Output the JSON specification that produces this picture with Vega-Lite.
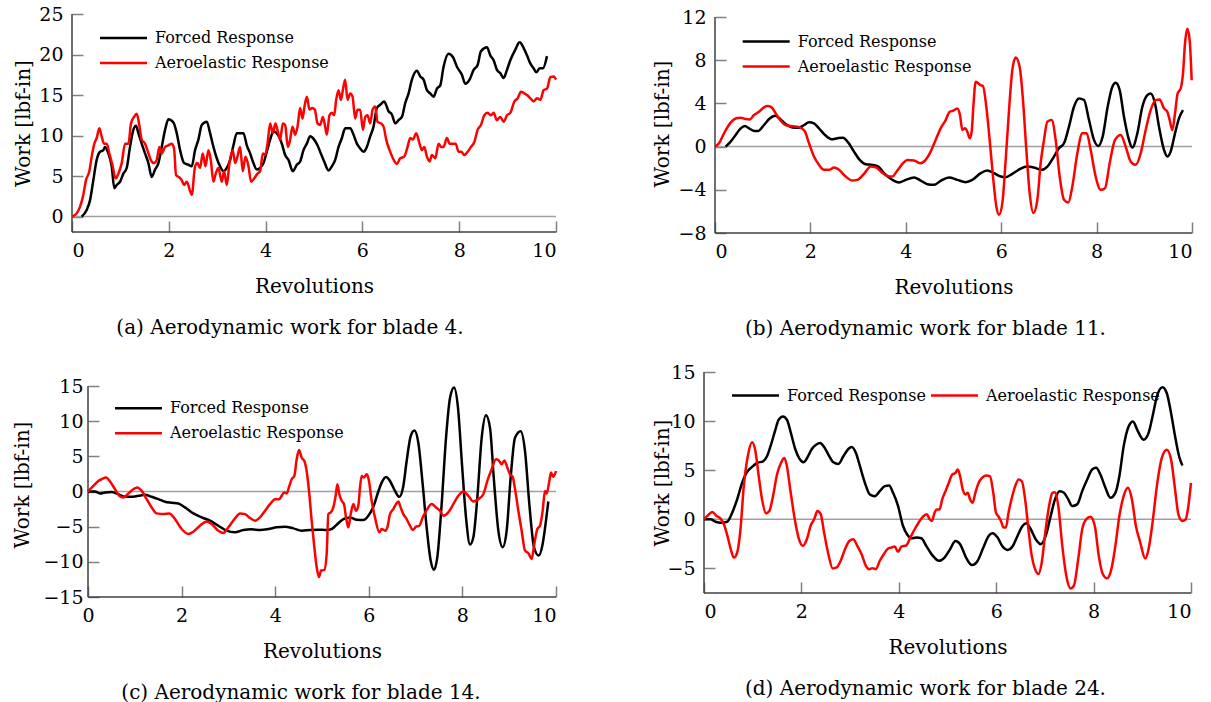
{
"$schema": "https://vega.github.io/schema/vega-lite/v6.json",
"background": "white",
"padding": {"left": 12, "top": 5, "right": 2, "bottom": 5},
"config": {
  "font": "DejaVu Serif",
  "view": {"stroke": null},
  "axis": {"grid": false, "domain": false, "ticks": true, "zindex": 1, "tickColor": "#808080", "tickWidth": 1.5, "tickSize": 11, "offset": -11, "labelFont": "DejaVu Serif", "labelFontSize": 19, "labelColor": "#000", "labelOverlap": false, "titleFont": "DejaVu Serif", "titleFontSize": 20, "titleFontWeight": "normal", "titleColor": "#000", "labelPadding": 9},
  "axisY": {"titlePadding": 5},
  "axisX": {"titlePadding": 16},
  "title": {"orient": "bottom", "anchor": "middle", "font": "DejaVu Serif", "fontSize": 20, "fontWeight": "normal", "color": "#000", "offset": 22},
  "legend": {"title": null, "labelFont": "DejaVu Serif", "labelFontSize": 16, "labelColor": "#000", "labelLimit": 500, "symbolType": "M-4.7,0H4.7", "symbolSize": 100, "symbolStrokeWidth": 2.5, "labelOffset": 23.5, "rowPadding": 9, "padding": 0, "orient": "none"},
  "line": {"strokeWidth": 2.5, "interpolate": "monotone"}
},
"datasets": {
"a": [
{"x":0.2,"y":0,"s":"Forced Response"},{"x":0.303,"y":0.8,"s":"Forced Response"},{"x":0.372,"y":2.0,"s":"Forced Response"},{"x":0.441,"y":4.5,"s":"Forced Response"},{"x":0.51,"y":7.0,"s":"Forced Response"},{"x":0.579,"y":8.0,"s":"Forced Response"},{"x":0.648,"y":8.2,"s":"Forced Response"},{"x":0.682,"y":8.6,"s":"Forced Response"},{"x":0.751,"y":7.8,"s":"Forced Response"},{"x":0.82,"y":6.2,"s":"Forced Response"},{"x":0.875,"y":3.5,"s":"Forced Response"},{"x":0.923,"y":3.9,"s":"Forced Response"},{"x":0.992,"y":4.3,"s":"Forced Response"},{"x":1.061,"y":5.3,"s":"Forced Response"},{"x":1.13,"y":6.0,"s":"Forced Response"},{"x":1.199,"y":8.6,"s":"Forced Response"},{"x":1.268,"y":10.7,"s":"Forced Response"},{"x":1.323,"y":11.2,"s":"Forced Response"},{"x":1.371,"y":10.3,"s":"Forced Response"},{"x":1.44,"y":9.0,"s":"Forced Response"},{"x":1.509,"y":7.8,"s":"Forced Response"},{"x":1.578,"y":6.6,"s":"Forced Response"},{"x":1.647,"y":4.9,"s":"Forced Response"},{"x":1.716,"y":5.8,"s":"Forced Response"},{"x":1.785,"y":6.6,"s":"Forced Response"},{"x":1.854,"y":8.6,"s":"Forced Response"},{"x":1.923,"y":10.7,"s":"Forced Response"},{"x":1.992,"y":12.0,"s":"Forced Response"},{"x":2.095,"y":11.6,"s":"Forced Response"},{"x":2.164,"y":10.3,"s":"Forced Response"},{"x":2.233,"y":8.2,"s":"Forced Response"},{"x":2.316,"y":6.6,"s":"Forced Response"},{"x":2.405,"y":6.4,"s":"Forced Response"},{"x":2.474,"y":6.2,"s":"Forced Response"},{"x":2.543,"y":8.2,"s":"Forced Response"},{"x":2.612,"y":9.5,"s":"Forced Response"},{"x":2.681,"y":11.3,"s":"Forced Response"},{"x":2.784,"y":11.7,"s":"Forced Response"},{"x":2.853,"y":10.3,"s":"Forced Response"},{"x":2.922,"y":8.6,"s":"Forced Response"},{"x":2.991,"y":7.2,"s":"Forced Response"},{"x":3.06,"y":6.2,"s":"Forced Response"},{"x":3.129,"y":5.6,"s":"Forced Response"},{"x":3.198,"y":6.0,"s":"Forced Response"},{"x":3.267,"y":7.0,"s":"Forced Response"},{"x":3.336,"y":8.8,"s":"Forced Response"},{"x":3.405,"y":10.3,"s":"Forced Response"},{"x":3.473,"y":10.3,"s":"Forced Response"},{"x":3.542,"y":10.3,"s":"Forced Response"},{"x":3.611,"y":8.8,"s":"Forced Response"},{"x":3.68,"y":7.8,"s":"Forced Response"},{"x":3.749,"y":6.6,"s":"Forced Response"},{"x":3.818,"y":5.8,"s":"Forced Response"},{"x":3.887,"y":6.0,"s":"Forced Response"},{"x":3.956,"y":6.6,"s":"Forced Response"},{"x":4.025,"y":8.0,"s":"Forced Response"},{"x":4.094,"y":9.5,"s":"Forced Response"},{"x":4.163,"y":10.5,"s":"Forced Response"},{"x":4.266,"y":10.0,"s":"Forced Response"},{"x":4.335,"y":9.0,"s":"Forced Response"},{"x":4.404,"y":7.6,"s":"Forced Response"},{"x":4.473,"y":7.0,"s":"Forced Response"},{"x":4.562,"y":5.6,"s":"Forced Response"},{"x":4.645,"y":6.4,"s":"Forced Response"},{"x":4.714,"y":6.8,"s":"Forced Response"},{"x":4.783,"y":8.2,"s":"Forced Response"},{"x":4.852,"y":9.0,"s":"Forced Response"},{"x":4.921,"y":9.9,"s":"Forced Response"},{"x":5.003,"y":9.5,"s":"Forced Response"},{"x":5.072,"y":8.8,"s":"Forced Response"},{"x":5.141,"y":7.8,"s":"Forced Response"},{"x":5.21,"y":6.8,"s":"Forced Response"},{"x":5.3,"y":5.7,"s":"Forced Response"},{"x":5.369,"y":6.2,"s":"Forced Response"},{"x":5.438,"y":7.0,"s":"Forced Response"},{"x":5.507,"y":8.6,"s":"Forced Response"},{"x":5.576,"y":9.7,"s":"Forced Response"},{"x":5.644,"y":10.9,"s":"Forced Response"},{"x":5.748,"y":10.9,"s":"Forced Response"},{"x":5.817,"y":10.1,"s":"Forced Response"},{"x":5.886,"y":9.0,"s":"Forced Response"},{"x":5.955,"y":8.4,"s":"Forced Response"},{"x":6.023,"y":8.0,"s":"Forced Response"},{"x":6.092,"y":8.6,"s":"Forced Response"},{"x":6.161,"y":9.9,"s":"Forced Response"},{"x":6.23,"y":11.1,"s":"Forced Response"},{"x":6.299,"y":13.4,"s":"Forced Response"},{"x":6.368,"y":13.8,"s":"Forced Response"},{"x":6.451,"y":14.2,"s":"Forced Response"},{"x":6.54,"y":13.0,"s":"Forced Response"},{"x":6.609,"y":12.6,"s":"Forced Response"},{"x":6.678,"y":11.5,"s":"Forced Response"},{"x":6.747,"y":11.9,"s":"Forced Response"},{"x":6.816,"y":12.3,"s":"Forced Response"},{"x":6.885,"y":14.0,"s":"Forced Response"},{"x":6.954,"y":15.2,"s":"Forced Response"},{"x":7.023,"y":16.9,"s":"Forced Response"},{"x":7.126,"y":18.0,"s":"Forced Response"},{"x":7.195,"y":17.3,"s":"Forced Response"},{"x":7.264,"y":16.9,"s":"Forced Response"},{"x":7.333,"y":15.6,"s":"Forced Response"},{"x":7.402,"y":15.2,"s":"Forced Response"},{"x":7.471,"y":14.8,"s":"Forced Response"},{"x":7.54,"y":15.8,"s":"Forced Response"},{"x":7.609,"y":16.2,"s":"Forced Response"},{"x":7.677,"y":18.5,"s":"Forced Response"},{"x":7.781,"y":20.1,"s":"Forced Response"},{"x":7.87,"y":19.7,"s":"Forced Response"},{"x":7.953,"y":18.5,"s":"Forced Response"},{"x":8.056,"y":17.5,"s":"Forced Response"},{"x":8.125,"y":16.4,"s":"Forced Response"},{"x":8.215,"y":16.9,"s":"Forced Response"},{"x":8.298,"y":18.1,"s":"Forced Response"},{"x":8.38,"y":18.7,"s":"Forced Response"},{"x":8.449,"y":20.4,"s":"Forced Response"},{"x":8.573,"y":20.9,"s":"Forced Response"},{"x":8.642,"y":19.9,"s":"Forced Response"},{"x":8.711,"y":19.3,"s":"Forced Response"},{"x":8.78,"y":18.1,"s":"Forced Response"},{"x":8.849,"y":17.7,"s":"Forced Response"},{"x":8.918,"y":17.1,"s":"Forced Response"},{"x":8.987,"y":18.1,"s":"Forced Response"},{"x":9.056,"y":19.3,"s":"Forced Response"},{"x":9.159,"y":20.6,"s":"Forced Response"},{"x":9.249,"y":21.5,"s":"Forced Response"},{"x":9.332,"y":20.8,"s":"Forced Response"},{"x":9.4,"y":19.9,"s":"Forced Response"},{"x":9.469,"y":18.9,"s":"Forced Response"},{"x":9.538,"y":18.3,"s":"Forced Response"},{"x":9.593,"y":17.8,"s":"Forced Response"},{"x":9.662,"y":18.3,"s":"Forced Response"},{"x":9.731,"y":18.3,"s":"Forced Response"},{"x":9.814,"y":19.8,"s":"Forced Response"},
{"x":0,"y":0,"s":"Aeroelastic Response"},{"x":0.096,"y":0.4,"s":"Aeroelastic Response"},{"x":0.165,"y":1.2,"s":"Aeroelastic Response"},{"x":0.234,"y":2.7,"s":"Aeroelastic Response"},{"x":0.289,"y":4.5,"s":"Aeroelastic Response"},{"x":0.358,"y":5.6,"s":"Aeroelastic Response"},{"x":0.407,"y":7.4,"s":"Aeroelastic Response"},{"x":0.462,"y":9.0,"s":"Aeroelastic Response"},{"x":0.51,"y":9.7,"s":"Aeroelastic Response"},{"x":0.565,"y":10.9,"s":"Aeroelastic Response"},{"x":0.613,"y":9.9,"s":"Aeroelastic Response"},{"x":0.662,"y":9.0,"s":"Aeroelastic Response"},{"x":0.717,"y":9.0,"s":"Aeroelastic Response"},{"x":0.772,"y":7.8,"s":"Aeroelastic Response"},{"x":0.834,"y":6.4,"s":"Aeroelastic Response"},{"x":0.903,"y":4.7,"s":"Aeroelastic Response"},{"x":0.958,"y":5.3,"s":"Aeroelastic Response"},{"x":1.027,"y":6.6,"s":"Aeroelastic Response"},{"x":1.096,"y":9.0,"s":"Aeroelastic Response"},{"x":1.165,"y":9.0,"s":"Aeroelastic Response"},{"x":1.22,"y":11.5,"s":"Aeroelastic Response"},{"x":1.282,"y":12.3,"s":"Aeroelastic Response"},{"x":1.337,"y":12.7,"s":"Aeroelastic Response"},{"x":1.385,"y":11.5,"s":"Aeroelastic Response"},{"x":1.44,"y":9.5,"s":"Aeroelastic Response"},{"x":1.509,"y":9.0,"s":"Aeroelastic Response"},{"x":1.558,"y":8.2,"s":"Aeroelastic Response"},{"x":1.626,"y":7.0,"s":"Aeroelastic Response"},{"x":1.695,"y":6.6,"s":"Aeroelastic Response"},{"x":1.75,"y":7.0,"s":"Aeroelastic Response"},{"x":1.806,"y":8.6,"s":"Aeroelastic Response"},{"x":1.854,"y":7.8,"s":"Aeroelastic Response"},{"x":1.923,"y":8.6,"s":"Aeroelastic Response"},{"x":1.992,"y":8.8,"s":"Aeroelastic Response"},{"x":2.061,"y":9.0,"s":"Aeroelastic Response"},{"x":2.109,"y":8.4,"s":"Aeroelastic Response"},{"x":2.15,"y":5.1,"s":"Aeroelastic Response"},{"x":2.205,"y":4.9,"s":"Aeroelastic Response"},{"x":2.267,"y":4.5,"s":"Aeroelastic Response"},{"x":2.316,"y":3.9,"s":"Aeroelastic Response"},{"x":2.371,"y":4.3,"s":"Aeroelastic Response"},{"x":2.474,"y":2.7,"s":"Aeroelastic Response"},{"x":2.543,"y":6.2,"s":"Aeroelastic Response"},{"x":2.591,"y":6.6,"s":"Aeroelastic Response"},{"x":2.646,"y":6.0,"s":"Aeroelastic Response"},{"x":2.702,"y":7.8,"s":"Aeroelastic Response"},{"x":2.757,"y":6.2,"s":"Aeroelastic Response"},{"x":2.819,"y":8.2,"s":"Aeroelastic Response"},{"x":2.867,"y":7.0,"s":"Aeroelastic Response"},{"x":2.922,"y":4.3,"s":"Aeroelastic Response"},{"x":2.97,"y":5.3,"s":"Aeroelastic Response"},{"x":3.025,"y":6.0,"s":"Aeroelastic Response"},{"x":3.094,"y":4.3,"s":"Aeroelastic Response"},{"x":3.143,"y":5.6,"s":"Aeroelastic Response"},{"x":3.198,"y":3.9,"s":"Aeroelastic Response"},{"x":3.253,"y":6.6,"s":"Aeroelastic Response"},{"x":3.322,"y":8.2,"s":"Aeroelastic Response"},{"x":3.37,"y":6.6,"s":"Aeroelastic Response"},{"x":3.418,"y":7.4,"s":"Aeroelastic Response"},{"x":3.473,"y":8.6,"s":"Aeroelastic Response"},{"x":3.529,"y":5.6,"s":"Aeroelastic Response"},{"x":3.584,"y":7.4,"s":"Aeroelastic Response"},{"x":3.646,"y":6.2,"s":"Aeroelastic Response"},{"x":3.701,"y":4.3,"s":"Aeroelastic Response"},{"x":3.763,"y":4.7,"s":"Aeroelastic Response"},{"x":3.832,"y":5.3,"s":"Aeroelastic Response"},{"x":3.887,"y":5.6,"s":"Aeroelastic Response"},{"x":3.942,"y":7.8,"s":"Aeroelastic Response"},{"x":3.99,"y":7.6,"s":"Aeroelastic Response"},{"x":4.039,"y":9.0,"s":"Aeroelastic Response"},{"x":4.094,"y":11.5,"s":"Aeroelastic Response"},{"x":4.149,"y":10.3,"s":"Aeroelastic Response"},{"x":4.204,"y":11.5,"s":"Aeroelastic Response"},{"x":4.252,"y":10.5,"s":"Aeroelastic Response"},{"x":4.3,"y":9.5,"s":"Aeroelastic Response"},{"x":4.356,"y":11.5,"s":"Aeroelastic Response"},{"x":4.404,"y":11.3,"s":"Aeroelastic Response"},{"x":4.459,"y":8.6,"s":"Aeroelastic Response"},{"x":4.507,"y":9.5,"s":"Aeroelastic Response"},{"x":4.555,"y":11.1,"s":"Aeroelastic Response"},{"x":4.611,"y":10.1,"s":"Aeroelastic Response"},{"x":4.659,"y":11.1,"s":"Aeroelastic Response"},{"x":4.714,"y":13.4,"s":"Aeroelastic Response"},{"x":4.762,"y":12.1,"s":"Aeroelastic Response"},{"x":4.804,"y":13.6,"s":"Aeroelastic Response"},{"x":4.852,"y":14.8,"s":"Aeroelastic Response"},{"x":4.907,"y":13.2,"s":"Aeroelastic Response"},{"x":4.962,"y":13.4,"s":"Aeroelastic Response"},{"x":5.017,"y":13.2,"s":"Aeroelastic Response"},{"x":5.072,"y":11.5,"s":"Aeroelastic Response"},{"x":5.127,"y":11.3,"s":"Aeroelastic Response"},{"x":5.183,"y":12.3,"s":"Aeroelastic Response"},{"x":5.231,"y":11.1,"s":"Aeroelastic Response"},{"x":5.265,"y":10.1,"s":"Aeroelastic Response"},{"x":5.32,"y":12.5,"s":"Aeroelastic Response"},{"x":5.369,"y":12.8,"s":"Aeroelastic Response"},{"x":5.417,"y":12.5,"s":"Aeroelastic Response"},{"x":5.458,"y":14.4,"s":"Aeroelastic Response"},{"x":5.507,"y":15.6,"s":"Aeroelastic Response"},{"x":5.555,"y":14.4,"s":"Aeroelastic Response"},{"x":5.596,"y":15.6,"s":"Aeroelastic Response"},{"x":5.644,"y":16.9,"s":"Aeroelastic Response"},{"x":5.693,"y":14.4,"s":"Aeroelastic Response"},{"x":5.748,"y":15.2,"s":"Aeroelastic Response"},{"x":5.796,"y":14.8,"s":"Aeroelastic Response"},{"x":5.851,"y":12.1,"s":"Aeroelastic Response"},{"x":5.899,"y":13.2,"s":"Aeroelastic Response"},{"x":5.955,"y":13.2,"s":"Aeroelastic Response"},{"x":6.01,"y":10.7,"s":"Aeroelastic Response"},{"x":6.058,"y":12.3,"s":"Aeroelastic Response"},{"x":6.106,"y":12.5,"s":"Aeroelastic Response"},{"x":6.161,"y":11.5,"s":"Aeroelastic Response"},{"x":6.21,"y":13.2,"s":"Aeroelastic Response"},{"x":6.265,"y":13.6,"s":"Aeroelastic Response"},{"x":6.313,"y":11.7,"s":"Aeroelastic Response"},{"x":6.382,"y":11.5,"s":"Aeroelastic Response"},{"x":6.437,"y":11.1,"s":"Aeroelastic Response"},{"x":6.492,"y":9.5,"s":"Aeroelastic Response"},{"x":6.561,"y":8.2,"s":"Aeroelastic Response"},{"x":6.63,"y":7.2,"s":"Aeroelastic Response"},{"x":6.713,"y":6.5,"s":"Aeroelastic Response"},{"x":6.782,"y":7.2,"s":"Aeroelastic Response"},{"x":6.864,"y":7.4,"s":"Aeroelastic Response"},{"x":6.933,"y":8.6,"s":"Aeroelastic Response"},{"x":6.988,"y":9.7,"s":"Aeroelastic Response"},{"x":7.043,"y":9.5,"s":"Aeroelastic Response"},{"x":7.112,"y":10.3,"s":"Aeroelastic Response"},{"x":7.181,"y":9.0,"s":"Aeroelastic Response"},{"x":7.23,"y":8.2,"s":"Aeroelastic Response"},{"x":7.278,"y":8.6,"s":"Aeroelastic Response"},{"x":7.333,"y":7.4,"s":"Aeroelastic Response"},{"x":7.388,"y":6.8,"s":"Aeroelastic Response"},{"x":7.436,"y":7.6,"s":"Aeroelastic Response"},{"x":7.505,"y":7.2,"s":"Aeroelastic Response"},{"x":7.574,"y":9.0,"s":"Aeroelastic Response"},{"x":7.629,"y":8.6,"s":"Aeroelastic Response"},{"x":7.677,"y":8.6,"s":"Aeroelastic Response"},{"x":7.746,"y":9.7,"s":"Aeroelastic Response"},{"x":7.802,"y":9.0,"s":"Aeroelastic Response"},{"x":7.87,"y":9.0,"s":"Aeroelastic Response"},{"x":7.926,"y":9.0,"s":"Aeroelastic Response"},{"x":7.988,"y":8.0,"s":"Aeroelastic Response"},{"x":8.043,"y":8.0,"s":"Aeroelastic Response"},{"x":8.105,"y":7.6,"s":"Aeroelastic Response"},{"x":8.174,"y":8.0,"s":"Aeroelastic Response"},{"x":8.243,"y":8.6,"s":"Aeroelastic Response"},{"x":8.312,"y":9.2,"s":"Aeroelastic Response"},{"x":8.38,"y":10.7,"s":"Aeroelastic Response"},{"x":8.449,"y":11.3,"s":"Aeroelastic Response"},{"x":8.518,"y":12.5,"s":"Aeroelastic Response"},{"x":8.587,"y":12.8,"s":"Aeroelastic Response"},{"x":8.656,"y":12.5,"s":"Aeroelastic Response"},{"x":8.711,"y":12.8,"s":"Aeroelastic Response"},{"x":8.78,"y":11.9,"s":"Aeroelastic Response"},{"x":8.849,"y":12.3,"s":"Aeroelastic Response"},{"x":8.918,"y":11.7,"s":"Aeroelastic Response"},{"x":8.987,"y":12.5,"s":"Aeroelastic Response"},{"x":9.056,"y":12.8,"s":"Aeroelastic Response"},{"x":9.139,"y":14.2,"s":"Aeroelastic Response"},{"x":9.208,"y":14.6,"s":"Aeroelastic Response"},{"x":9.276,"y":15.4,"s":"Aeroelastic Response"},{"x":9.345,"y":15.2,"s":"Aeroelastic Response"},{"x":9.4,"y":15.0,"s":"Aeroelastic Response"},{"x":9.469,"y":14.6,"s":"Aeroelastic Response"},{"x":9.538,"y":14.2,"s":"Aeroelastic Response"},{"x":9.607,"y":14.6,"s":"Aeroelastic Response"},{"x":9.676,"y":14.4,"s":"Aeroelastic Response"},{"x":9.745,"y":15.6,"s":"Aeroelastic Response"},{"x":9.814,"y":15.8,"s":"Aeroelastic Response"},{"x":9.883,"y":17.2,"s":"Aeroelastic Response"},{"x":9.952,"y":17.3,"s":"Aeroelastic Response"},{"x":10.0,"y":16.9,"s":"Aeroelastic Response"}
],
"b": [
{"x":0.224,"y":0,"s":"Forced Response"},{"x":0.328,"y":0.46,"s":"Forced Response"},{"x":0.433,"y":1.08,"s":"Forced Response"},{"x":0.538,"y":1.69,"s":"Forced Response"},{"x":0.629,"y":1.91,"s":"Forced Response"},{"x":0.713,"y":1.69,"s":"Forced Response"},{"x":0.818,"y":1.45,"s":"Forced Response"},{"x":0.908,"y":1.45,"s":"Forced Response"},{"x":1.027,"y":2.0,"s":"Forced Response"},{"x":1.146,"y":2.6,"s":"Forced Response"},{"x":1.258,"y":2.86,"s":"Forced Response"},{"x":1.377,"y":2.52,"s":"Forced Response"},{"x":1.481,"y":2.09,"s":"Forced Response"},{"x":1.621,"y":1.78,"s":"Forced Response"},{"x":1.761,"y":1.75,"s":"Forced Response"},{"x":1.866,"y":2.0,"s":"Forced Response"},{"x":1.971,"y":2.25,"s":"Forced Response"},{"x":2.075,"y":2.15,"s":"Forced Response"},{"x":2.18,"y":1.69,"s":"Forced Response"},{"x":2.306,"y":1.08,"s":"Forced Response"},{"x":2.446,"y":0.68,"s":"Forced Response"},{"x":2.565,"y":0.77,"s":"Forced Response"},{"x":2.683,"y":0.83,"s":"Forced Response"},{"x":2.795,"y":0.37,"s":"Forced Response"},{"x":2.914,"y":-0.46,"s":"Forced Response"},{"x":3.033,"y":-1.23,"s":"Forced Response"},{"x":3.159,"y":-1.63,"s":"Forced Response"},{"x":3.298,"y":-1.69,"s":"Forced Response"},{"x":3.424,"y":-1.85,"s":"Forced Response"},{"x":3.543,"y":-2.46,"s":"Forced Response"},{"x":3.683,"y":-2.98,"s":"Forced Response"},{"x":3.857,"y":-3.32,"s":"Forced Response"},{"x":3.997,"y":-3.08,"s":"Forced Response"},{"x":4.172,"y":-2.86,"s":"Forced Response"},{"x":4.312,"y":-3.14,"s":"Forced Response"},{"x":4.451,"y":-3.48,"s":"Forced Response"},{"x":4.591,"y":-3.54,"s":"Forced Response"},{"x":4.731,"y":-3.17,"s":"Forced Response"},{"x":4.906,"y":-2.86,"s":"Forced Response"},{"x":5.08,"y":-3.08,"s":"Forced Response"},{"x":5.255,"y":-3.29,"s":"Forced Response"},{"x":5.395,"y":-3.08,"s":"Forced Response"},{"x":5.57,"y":-2.46,"s":"Forced Response"},{"x":5.709,"y":-2.22,"s":"Forced Response"},{"x":5.849,"y":-2.46,"s":"Forced Response"},{"x":5.989,"y":-2.77,"s":"Forced Response"},{"x":6.094,"y":-2.83,"s":"Forced Response"},{"x":6.233,"y":-2.52,"s":"Forced Response"},{"x":6.387,"y":-2.09,"s":"Forced Response"},{"x":6.548,"y":-1.85,"s":"Forced Response"},{"x":6.688,"y":-1.94,"s":"Forced Response"},{"x":6.848,"y":-2.15,"s":"Forced Response"},{"x":6.967,"y":-1.85,"s":"Forced Response"},{"x":7.107,"y":-0.92,"s":"Forced Response"},{"x":7.212,"y":-0.15,"s":"Forced Response"},{"x":7.317,"y":0.31,"s":"Forced Response"},{"x":7.421,"y":1.85,"s":"Forced Response"},{"x":7.526,"y":3.69,"s":"Forced Response"},{"x":7.631,"y":4.46,"s":"Forced Response"},{"x":7.736,"y":4.31,"s":"Forced Response"},{"x":7.841,"y":2.46,"s":"Forced Response"},{"x":7.945,"y":0.62,"s":"Forced Response"},{"x":8.036,"y":0.06,"s":"Forced Response"},{"x":8.127,"y":0.92,"s":"Forced Response"},{"x":8.232,"y":3.69,"s":"Forced Response"},{"x":8.33,"y":5.54,"s":"Forced Response"},{"x":8.4,"y":5.91,"s":"Forced Response"},{"x":8.484,"y":5.23,"s":"Forced Response"},{"x":8.574,"y":2.77,"s":"Forced Response"},{"x":8.679,"y":0.62,"s":"Forced Response"},{"x":8.749,"y":-0.09,"s":"Forced Response"},{"x":8.854,"y":1.23,"s":"Forced Response"},{"x":8.959,"y":3.69,"s":"Forced Response"},{"x":9.064,"y":4.77,"s":"Forced Response"},{"x":9.133,"y":4.92,"s":"Forced Response"},{"x":9.224,"y":4.0,"s":"Forced Response"},{"x":9.308,"y":1.85,"s":"Forced Response"},{"x":9.413,"y":-0.31,"s":"Forced Response"},{"x":9.483,"y":-0.92,"s":"Forced Response"},{"x":9.553,"y":-0.46,"s":"Forced Response"},{"x":9.644,"y":1.23,"s":"Forced Response"},{"x":9.727,"y":2.62,"s":"Forced Response"},{"x":9.811,"y":3.38,"s":"Forced Response"},
{"x":0,"y":0,"s":"Aeroelastic Response"},{"x":0.084,"y":0.31,"s":"Aeroelastic Response"},{"x":0.189,"y":1.23,"s":"Aeroelastic Response"},{"x":0.328,"y":2.22,"s":"Aeroelastic Response"},{"x":0.447,"y":2.62,"s":"Aeroelastic Response"},{"x":0.538,"y":2.68,"s":"Aeroelastic Response"},{"x":0.643,"y":2.55,"s":"Aeroelastic Response"},{"x":0.727,"y":2.52,"s":"Aeroelastic Response"},{"x":0.818,"y":2.92,"s":"Aeroelastic Response"},{"x":0.922,"y":3.23,"s":"Aeroelastic Response"},{"x":1.027,"y":3.63,"s":"Aeroelastic Response"},{"x":1.097,"y":3.75,"s":"Aeroelastic Response"},{"x":1.188,"y":3.63,"s":"Aeroelastic Response"},{"x":1.272,"y":3.08,"s":"Aeroelastic Response"},{"x":1.377,"y":2.4,"s":"Aeroelastic Response"},{"x":1.481,"y":2.0,"s":"Aeroelastic Response"},{"x":1.586,"y":1.91,"s":"Aeroelastic Response"},{"x":1.705,"y":1.85,"s":"Aeroelastic Response"},{"x":1.817,"y":1.69,"s":"Aeroelastic Response"},{"x":1.887,"y":1.38,"s":"Aeroelastic Response"},{"x":1.971,"y":0.31,"s":"Aeroelastic Response"},{"x":2.075,"y":-0.92,"s":"Aeroelastic Response"},{"x":2.18,"y":-1.69,"s":"Aeroelastic Response"},{"x":2.285,"y":-2.15,"s":"Aeroelastic Response"},{"x":2.39,"y":-2.15,"s":"Aeroelastic Response"},{"x":2.495,"y":-1.94,"s":"Aeroelastic Response"},{"x":2.6,"y":-2.15,"s":"Aeroelastic Response"},{"x":2.739,"y":-2.77,"s":"Aeroelastic Response"},{"x":2.879,"y":-3.14,"s":"Aeroelastic Response"},{"x":2.984,"y":-3.08,"s":"Aeroelastic Response"},{"x":3.124,"y":-2.52,"s":"Aeroelastic Response"},{"x":3.263,"y":-1.85,"s":"Aeroelastic Response"},{"x":3.368,"y":-1.91,"s":"Aeroelastic Response"},{"x":3.494,"y":-2.37,"s":"Aeroelastic Response"},{"x":3.613,"y":-2.71,"s":"Aeroelastic Response"},{"x":3.718,"y":-2.77,"s":"Aeroelastic Response"},{"x":3.822,"y":-2.22,"s":"Aeroelastic Response"},{"x":3.941,"y":-1.54,"s":"Aeroelastic Response"},{"x":4.032,"y":-1.23,"s":"Aeroelastic Response"},{"x":4.172,"y":-1.29,"s":"Aeroelastic Response"},{"x":4.312,"y":-1.54,"s":"Aeroelastic Response"},{"x":4.416,"y":-1.23,"s":"Aeroelastic Response"},{"x":4.521,"y":-0.46,"s":"Aeroelastic Response"},{"x":4.626,"y":0.62,"s":"Aeroelastic Response"},{"x":4.731,"y":1.69,"s":"Aeroelastic Response"},{"x":4.836,"y":2.46,"s":"Aeroelastic Response"},{"x":4.92,"y":3.23,"s":"Aeroelastic Response"},{"x":4.99,"y":3.32,"s":"Aeroelastic Response"},{"x":5.08,"y":3.54,"s":"Aeroelastic Response"},{"x":5.136,"y":2.92,"s":"Aeroelastic Response"},{"x":5.185,"y":1.54,"s":"Aeroelastic Response"},{"x":5.241,"y":1.69,"s":"Aeroelastic Response"},{"x":5.29,"y":1.38,"s":"Aeroelastic Response"},{"x":5.339,"y":0.77,"s":"Aeroelastic Response"},{"x":5.381,"y":1.38,"s":"Aeroelastic Response"},{"x":5.416,"y":3.69,"s":"Aeroelastic Response"},{"x":5.465,"y":6.0,"s":"Aeroelastic Response"},{"x":5.521,"y":5.85,"s":"Aeroelastic Response"},{"x":5.57,"y":5.69,"s":"Aeroelastic Response"},{"x":5.618,"y":5.6,"s":"Aeroelastic Response"},{"x":5.688,"y":3.69,"s":"Aeroelastic Response"},{"x":5.758,"y":0.62,"s":"Aeroelastic Response"},{"x":5.828,"y":-2.77,"s":"Aeroelastic Response"},{"x":5.898,"y":-5.54,"s":"Aeroelastic Response"},{"x":5.954,"y":-6.31,"s":"Aeroelastic Response"},{"x":6.024,"y":-5.23,"s":"Aeroelastic Response"},{"x":6.094,"y":-1.23,"s":"Aeroelastic Response"},{"x":6.164,"y":3.38,"s":"Aeroelastic Response"},{"x":6.233,"y":7.08,"s":"Aeroelastic Response"},{"x":6.303,"y":8.25,"s":"Aeroelastic Response"},{"x":6.387,"y":7.38,"s":"Aeroelastic Response"},{"x":6.457,"y":4.31,"s":"Aeroelastic Response"},{"x":6.527,"y":-0.31,"s":"Aeroelastic Response"},{"x":6.597,"y":-4.31,"s":"Aeroelastic Response"},{"x":6.674,"y":-6.15,"s":"Aeroelastic Response"},{"x":6.758,"y":-4.92,"s":"Aeroelastic Response"},{"x":6.827,"y":-1.54,"s":"Aeroelastic Response"},{"x":6.897,"y":0.62,"s":"Aeroelastic Response"},{"x":6.967,"y":2.31,"s":"Aeroelastic Response"},{"x":7.058,"y":2.46,"s":"Aeroelastic Response"},{"x":7.142,"y":0.62,"s":"Aeroelastic Response"},{"x":7.226,"y":-2.77,"s":"Aeroelastic Response"},{"x":7.317,"y":-4.92,"s":"Aeroelastic Response"},{"x":7.407,"y":-5.17,"s":"Aeroelastic Response"},{"x":7.491,"y":-3.69,"s":"Aeroelastic Response"},{"x":7.596,"y":-0.62,"s":"Aeroelastic Response"},{"x":7.701,"y":1.23,"s":"Aeroelastic Response"},{"x":7.792,"y":1.23,"s":"Aeroelastic Response"},{"x":7.876,"y":-0.31,"s":"Aeroelastic Response"},{"x":7.98,"y":-2.77,"s":"Aeroelastic Response"},{"x":8.085,"y":-4.0,"s":"Aeroelastic Response"},{"x":8.176,"y":-3.85,"s":"Aeroelastic Response"},{"x":8.274,"y":-1.54,"s":"Aeroelastic Response"},{"x":8.386,"y":0.62,"s":"Aeroelastic Response"},{"x":8.505,"y":1.08,"s":"Aeroelastic Response"},{"x":8.609,"y":0,"s":"Aeroelastic Response"},{"x":8.714,"y":-1.38,"s":"Aeroelastic Response"},{"x":8.819,"y":-1.69,"s":"Aeroelastic Response"},{"x":8.924,"y":-0.62,"s":"Aeroelastic Response"},{"x":9.029,"y":1.54,"s":"Aeroelastic Response"},{"x":9.133,"y":3.38,"s":"Aeroelastic Response"},{"x":9.238,"y":4.31,"s":"Aeroelastic Response"},{"x":9.322,"y":4.37,"s":"Aeroelastic Response"},{"x":9.413,"y":3.54,"s":"Aeroelastic Response"},{"x":9.483,"y":3.23,"s":"Aeroelastic Response"},{"x":9.532,"y":2.46,"s":"Aeroelastic Response"},{"x":9.588,"y":1.54,"s":"Aeroelastic Response"},{"x":9.644,"y":3.08,"s":"Aeroelastic Response"},{"x":9.699,"y":4.92,"s":"Aeroelastic Response"},{"x":9.762,"y":5.38,"s":"Aeroelastic Response"},{"x":9.811,"y":6.77,"s":"Aeroelastic Response"},{"x":9.853,"y":9.54,"s":"Aeroelastic Response"},{"x":9.902,"y":10.92,"s":"Aeroelastic Response"},{"x":9.951,"y":9.85,"s":"Aeroelastic Response"},{"x":9.993,"y":6.15,"s":"Aeroelastic Response"}
],
"c": [
{"x":0,"y":0,"s":"Forced Response"},{"x":0.15,"y":0,"s":"Forced Response"},{"x":0.256,"y":-0.28,"s":"Forced Response"},{"x":0.363,"y":-0.14,"s":"Forced Response"},{"x":0.506,"y":-0.05,"s":"Forced Response"},{"x":0.648,"y":-0.38,"s":"Forced Response"},{"x":0.791,"y":-0.75,"s":"Forced Response"},{"x":0.933,"y":-0.75,"s":"Forced Response"},{"x":1.075,"y":-0.61,"s":"Forced Response"},{"x":1.218,"y":-0.47,"s":"Forced Response"},{"x":1.36,"y":-0.75,"s":"Forced Response"},{"x":1.503,"y":-1.08,"s":"Forced Response"},{"x":1.645,"y":-1.46,"s":"Forced Response"},{"x":1.788,"y":-1.6,"s":"Forced Response"},{"x":1.93,"y":-1.7,"s":"Forced Response"},{"x":2.073,"y":-2.26,"s":"Forced Response"},{"x":2.251,"y":-3.11,"s":"Forced Response"},{"x":2.429,"y":-3.68,"s":"Forced Response"},{"x":2.607,"y":-4.15,"s":"Forced Response"},{"x":2.785,"y":-4.86,"s":"Forced Response"},{"x":2.963,"y":-5.57,"s":"Forced Response"},{"x":3.141,"y":-5.8,"s":"Forced Response"},{"x":3.319,"y":-5.47,"s":"Forced Response"},{"x":3.497,"y":-5.38,"s":"Forced Response"},{"x":3.675,"y":-5.47,"s":"Forced Response"},{"x":3.853,"y":-5.33,"s":"Forced Response"},{"x":4.031,"y":-5.09,"s":"Forced Response"},{"x":4.209,"y":-5.0,"s":"Forced Response"},{"x":4.387,"y":-5.24,"s":"Forced Response"},{"x":4.566,"y":-5.57,"s":"Forced Response"},{"x":4.744,"y":-5.47,"s":"Forced Response"},{"x":4.922,"y":-5.42,"s":"Forced Response"},{"x":5.1,"y":-5.47,"s":"Forced Response"},{"x":5.207,"y":-5.33,"s":"Forced Response"},{"x":5.313,"y":-4.72,"s":"Forced Response"},{"x":5.456,"y":-3.92,"s":"Forced Response"},{"x":5.598,"y":-3.68,"s":"Forced Response"},{"x":5.741,"y":-4.01,"s":"Forced Response"},{"x":5.883,"y":-4.06,"s":"Forced Response"},{"x":5.99,"y":-3.44,"s":"Forced Response"},{"x":6.097,"y":-2.17,"s":"Forced Response"},{"x":6.204,"y":0,"s":"Forced Response"},{"x":6.275,"y":1.27,"s":"Forced Response"},{"x":6.368,"y":2.08,"s":"Forced Response"},{"x":6.453,"y":1.51,"s":"Forced Response"},{"x":6.56,"y":0.09,"s":"Forced Response"},{"x":6.652,"y":-0.75,"s":"Forced Response"},{"x":6.738,"y":0.8,"s":"Forced Response"},{"x":6.809,"y":4.34,"s":"Forced Response"},{"x":6.895,"y":7.88,"s":"Forced Response"},{"x":6.973,"y":8.68,"s":"Forced Response"},{"x":7.058,"y":6.93,"s":"Forced Response"},{"x":7.151,"y":1.04,"s":"Forced Response"},{"x":7.236,"y":-5.09,"s":"Forced Response"},{"x":7.322,"y":-9.81,"s":"Forced Response"},{"x":7.393,"y":-11.13,"s":"Forced Response"},{"x":7.464,"y":-9.34,"s":"Forced Response"},{"x":7.557,"y":-1.79,"s":"Forced Response"},{"x":7.65,"y":7.64,"s":"Forced Response"},{"x":7.735,"y":13.3,"s":"Forced Response"},{"x":7.821,"y":14.81,"s":"Forced Response"},{"x":7.906,"y":11.89,"s":"Forced Response"},{"x":7.991,"y":3.87,"s":"Forced Response"},{"x":8.077,"y":-3.68,"s":"Forced Response"},{"x":8.162,"y":-7.55,"s":"Forced Response"},{"x":8.234,"y":-6.51,"s":"Forced Response"},{"x":8.319,"y":-0.85,"s":"Forced Response"},{"x":8.412,"y":7.64,"s":"Forced Response"},{"x":8.504,"y":10.85,"s":"Forced Response"},{"x":8.59,"y":9.06,"s":"Forced Response"},{"x":8.675,"y":1.51,"s":"Forced Response"},{"x":8.768,"y":-5.57,"s":"Forced Response"},{"x":8.86,"y":-7.92,"s":"Forced Response"},{"x":8.946,"y":-5.57,"s":"Forced Response"},{"x":9.031,"y":1.98,"s":"Forced Response"},{"x":9.124,"y":7.64,"s":"Forced Response"},{"x":9.245,"y":8.58,"s":"Forced Response"},{"x":9.338,"y":5.75,"s":"Forced Response"},{"x":9.43,"y":-1.79,"s":"Forced Response"},{"x":9.53,"y":-7.92,"s":"Forced Response"},{"x":9.63,"y":-9.1,"s":"Forced Response"},{"x":9.715,"y":-7.45,"s":"Forced Response"},{"x":9.786,"y":-4.15,"s":"Forced Response"},{"x":9.836,"y":-1.42,"s":"Forced Response"},
{"x":0,"y":0,"s":"Aeroelastic Response"},{"x":0.114,"y":0.8,"s":"Aeroelastic Response"},{"x":0.221,"y":1.51,"s":"Aeroelastic Response"},{"x":0.292,"y":1.75,"s":"Aeroelastic Response"},{"x":0.385,"y":1.98,"s":"Aeroelastic Response"},{"x":0.47,"y":1.42,"s":"Aeroelastic Response"},{"x":0.577,"y":0.33,"s":"Aeroelastic Response"},{"x":0.67,"y":-0.61,"s":"Aeroelastic Response"},{"x":0.755,"y":-0.85,"s":"Aeroelastic Response"},{"x":0.862,"y":-0.28,"s":"Aeroelastic Response"},{"x":0.969,"y":0.33,"s":"Aeroelastic Response"},{"x":1.054,"y":0.57,"s":"Aeroelastic Response"},{"x":1.147,"y":0.09,"s":"Aeroelastic Response"},{"x":1.254,"y":-1.08,"s":"Aeroelastic Response"},{"x":1.36,"y":-2.26,"s":"Aeroelastic Response"},{"x":1.467,"y":-3.11,"s":"Aeroelastic Response"},{"x":1.61,"y":-3.21,"s":"Aeroelastic Response"},{"x":1.738,"y":-3.11,"s":"Aeroelastic Response"},{"x":1.859,"y":-3.92,"s":"Aeroelastic Response"},{"x":2.001,"y":-5.33,"s":"Aeroelastic Response"},{"x":2.144,"y":-6.04,"s":"Aeroelastic Response"},{"x":2.251,"y":-5.71,"s":"Aeroelastic Response"},{"x":2.393,"y":-4.86,"s":"Aeroelastic Response"},{"x":2.536,"y":-4.25,"s":"Aeroelastic Response"},{"x":2.642,"y":-4.62,"s":"Aeroelastic Response"},{"x":2.785,"y":-5.57,"s":"Aeroelastic Response"},{"x":2.892,"y":-5.9,"s":"Aeroelastic Response"},{"x":2.999,"y":-5.09,"s":"Aeroelastic Response"},{"x":3.141,"y":-3.82,"s":"Aeroelastic Response"},{"x":3.248,"y":-3.11,"s":"Aeroelastic Response"},{"x":3.355,"y":-3.21,"s":"Aeroelastic Response"},{"x":3.462,"y":-3.77,"s":"Aeroelastic Response"},{"x":3.568,"y":-4.15,"s":"Aeroelastic Response"},{"x":3.675,"y":-3.68,"s":"Aeroelastic Response"},{"x":3.782,"y":-2.74,"s":"Aeroelastic Response"},{"x":3.889,"y":-1.79,"s":"Aeroelastic Response"},{"x":3.996,"y":-1.08,"s":"Aeroelastic Response"},{"x":4.088,"y":-1.08,"s":"Aeroelastic Response"},{"x":4.138,"y":-0.61,"s":"Aeroelastic Response"},{"x":4.188,"y":-0.14,"s":"Aeroelastic Response"},{"x":4.245,"y":-0.28,"s":"Aeroelastic Response"},{"x":4.302,"y":0.8,"s":"Aeroelastic Response"},{"x":4.352,"y":1.75,"s":"Aeroelastic Response"},{"x":4.409,"y":2.22,"s":"Aeroelastic Response"},{"x":4.459,"y":4.58,"s":"Aeroelastic Response"},{"x":4.509,"y":5.9,"s":"Aeroelastic Response"},{"x":4.566,"y":4.81,"s":"Aeroelastic Response"},{"x":4.623,"y":4.34,"s":"Aeroelastic Response"},{"x":4.672,"y":2.92,"s":"Aeroelastic Response"},{"x":4.729,"y":-0.38,"s":"Aeroelastic Response"},{"x":4.779,"y":-4.15,"s":"Aeroelastic Response"},{"x":4.836,"y":-7.92,"s":"Aeroelastic Response"},{"x":4.886,"y":-10.75,"s":"Aeroelastic Response"},{"x":4.936,"y":-12.17,"s":"Aeroelastic Response"},{"x":4.979,"y":-11.23,"s":"Aeroelastic Response"},{"x":5.05,"y":-11.13,"s":"Aeroelastic Response"},{"x":5.1,"y":-8.87,"s":"Aeroelastic Response"},{"x":5.135,"y":-3.21,"s":"Aeroelastic Response"},{"x":5.185,"y":-2.97,"s":"Aeroelastic Response"},{"x":5.242,"y":-2.26,"s":"Aeroelastic Response"},{"x":5.292,"y":-0.61,"s":"Aeroelastic Response"},{"x":5.328,"y":1.04,"s":"Aeroelastic Response"},{"x":5.37,"y":-0.38,"s":"Aeroelastic Response"},{"x":5.42,"y":-1.32,"s":"Aeroelastic Response"},{"x":5.47,"y":-1.79,"s":"Aeroelastic Response"},{"x":5.513,"y":-3.68,"s":"Aeroelastic Response"},{"x":5.563,"y":-5.09,"s":"Aeroelastic Response"},{"x":5.613,"y":-3.21,"s":"Aeroelastic Response"},{"x":5.67,"y":-1.79,"s":"Aeroelastic Response"},{"x":5.726,"y":-2.74,"s":"Aeroelastic Response"},{"x":5.776,"y":-2.03,"s":"Aeroelastic Response"},{"x":5.812,"y":0.57,"s":"Aeroelastic Response"},{"x":5.848,"y":2.22,"s":"Aeroelastic Response"},{"x":5.897,"y":1.98,"s":"Aeroelastic Response"},{"x":5.954,"y":2.45,"s":"Aeroelastic Response"},{"x":5.997,"y":1.75,"s":"Aeroelastic Response"},{"x":6.061,"y":-1.32,"s":"Aeroelastic Response"},{"x":6.132,"y":-3.68,"s":"Aeroelastic Response"},{"x":6.225,"y":-5.8,"s":"Aeroelastic Response"},{"x":6.275,"y":-5.33,"s":"Aeroelastic Response"},{"x":6.346,"y":-5.57,"s":"Aeroelastic Response"},{"x":6.396,"y":-5.09,"s":"Aeroelastic Response"},{"x":6.453,"y":-3.21,"s":"Aeroelastic Response"},{"x":6.524,"y":-2.5,"s":"Aeroelastic Response"},{"x":6.581,"y":-1.79,"s":"Aeroelastic Response"},{"x":6.631,"y":-1.42,"s":"Aeroelastic Response"},{"x":6.681,"y":-2.26,"s":"Aeroelastic Response"},{"x":6.738,"y":-3.21,"s":"Aeroelastic Response"},{"x":6.809,"y":-3.92,"s":"Aeroelastic Response"},{"x":6.88,"y":-4.86,"s":"Aeroelastic Response"},{"x":6.937,"y":-5.47,"s":"Aeroelastic Response"},{"x":7.009,"y":-5.0,"s":"Aeroelastic Response"},{"x":7.08,"y":-4.86,"s":"Aeroelastic Response"},{"x":7.151,"y":-3.68,"s":"Aeroelastic Response"},{"x":7.236,"y":-2.64,"s":"Aeroelastic Response"},{"x":7.343,"y":-1.79,"s":"Aeroelastic Response"},{"x":7.436,"y":-2.26,"s":"Aeroelastic Response"},{"x":7.521,"y":-2.74,"s":"Aeroelastic Response"},{"x":7.593,"y":-3.44,"s":"Aeroelastic Response"},{"x":7.699,"y":-2.97,"s":"Aeroelastic Response"},{"x":7.806,"y":-1.79,"s":"Aeroelastic Response"},{"x":7.913,"y":-0.61,"s":"Aeroelastic Response"},{"x":8.02,"y":0,"s":"Aeroelastic Response"},{"x":8.127,"y":-0.61,"s":"Aeroelastic Response"},{"x":8.234,"y":-1.42,"s":"Aeroelastic Response"},{"x":8.34,"y":-1.08,"s":"Aeroelastic Response"},{"x":8.447,"y":-0.38,"s":"Aeroelastic Response"},{"x":8.533,"y":1.51,"s":"Aeroelastic Response"},{"x":8.625,"y":3.16,"s":"Aeroelastic Response"},{"x":8.718,"y":4.58,"s":"Aeroelastic Response"},{"x":8.789,"y":4.34,"s":"Aeroelastic Response"},{"x":8.839,"y":3.87,"s":"Aeroelastic Response"},{"x":8.896,"y":4.43,"s":"Aeroelastic Response"},{"x":8.96,"y":3.4,"s":"Aeroelastic Response"},{"x":9.017,"y":2.45,"s":"Aeroelastic Response"},{"x":9.074,"y":2.08,"s":"Aeroelastic Response"},{"x":9.131,"y":0.09,"s":"Aeroelastic Response"},{"x":9.195,"y":-2.74,"s":"Aeroelastic Response"},{"x":9.266,"y":-5.57,"s":"Aeroelastic Response"},{"x":9.338,"y":-8.4,"s":"Aeroelastic Response"},{"x":9.409,"y":-8.77,"s":"Aeroelastic Response"},{"x":9.48,"y":-9.58,"s":"Aeroelastic Response"},{"x":9.537,"y":-7.45,"s":"Aeroelastic Response"},{"x":9.601,"y":-5.33,"s":"Aeroelastic Response"},{"x":9.658,"y":-4.86,"s":"Aeroelastic Response"},{"x":9.715,"y":-2.74,"s":"Aeroelastic Response"},{"x":9.765,"y":0.09,"s":"Aeroelastic Response"},{"x":9.801,"y":-0.28,"s":"Aeroelastic Response"},{"x":9.858,"y":1.51,"s":"Aeroelastic Response"},{"x":9.893,"y":2.69,"s":"Aeroelastic Response"},{"x":9.943,"y":2.08,"s":"Aeroelastic Response"},{"x":10.0,"y":2.92,"s":"Aeroelastic Response"}
],
"d": [
{"x":0,"y":0,"s":"Forced Response"},{"x":0.136,"y":0,"s":"Forced Response"},{"x":0.238,"y":-0.24,"s":"Forced Response"},{"x":0.341,"y":-0.34,"s":"Forced Response"},{"x":0.477,"y":-0.24,"s":"Forced Response"},{"x":0.579,"y":0.68,"s":"Forced Response"},{"x":0.681,"y":2.03,"s":"Forced Response"},{"x":0.783,"y":3.72,"s":"Forced Response"},{"x":0.872,"y":4.73,"s":"Forced Response"},{"x":0.988,"y":5.34,"s":"Forced Response"},{"x":1.09,"y":5.74,"s":"Forced Response"},{"x":1.213,"y":5.91,"s":"Forced Response"},{"x":1.294,"y":6.42,"s":"Forced Response"},{"x":1.376,"y":7.6,"s":"Forced Response"},{"x":1.465,"y":9.12,"s":"Forced Response"},{"x":1.533,"y":10.14,"s":"Forced Response"},{"x":1.621,"y":10.47,"s":"Forced Response"},{"x":1.703,"y":10.14,"s":"Forced Response"},{"x":1.785,"y":8.78,"s":"Forced Response"},{"x":1.873,"y":7.16,"s":"Forced Response"},{"x":1.962,"y":6.15,"s":"Forced Response"},{"x":2.044,"y":5.81,"s":"Forced Response"},{"x":2.125,"y":6.32,"s":"Forced Response"},{"x":2.214,"y":7.16,"s":"Forced Response"},{"x":2.302,"y":7.6,"s":"Forced Response"},{"x":2.384,"y":7.77,"s":"Forced Response"},{"x":2.466,"y":7.36,"s":"Forced Response"},{"x":2.554,"y":6.59,"s":"Forced Response"},{"x":2.657,"y":5.81,"s":"Forced Response"},{"x":2.759,"y":5.64,"s":"Forced Response"},{"x":2.861,"y":6.42,"s":"Forced Response"},{"x":2.963,"y":7.16,"s":"Forced Response"},{"x":3.031,"y":7.36,"s":"Forced Response"},{"x":3.12,"y":6.76,"s":"Forced Response"},{"x":3.202,"y":5.41,"s":"Forced Response"},{"x":3.304,"y":3.72,"s":"Forced Response"},{"x":3.406,"y":2.53,"s":"Forced Response"},{"x":3.508,"y":2.36,"s":"Forced Response"},{"x":3.61,"y":2.87,"s":"Forced Response"},{"x":3.713,"y":3.38,"s":"Forced Response"},{"x":3.801,"y":3.45,"s":"Forced Response"},{"x":3.883,"y":2.7,"s":"Forced Response"},{"x":3.985,"y":1.35,"s":"Forced Response"},{"x":4.087,"y":-0.68,"s":"Forced Response"},{"x":4.169,"y":-1.52,"s":"Forced Response"},{"x":4.257,"y":-1.93,"s":"Forced Response"},{"x":4.36,"y":-1.86,"s":"Forced Response"},{"x":4.462,"y":-1.93,"s":"Forced Response"},{"x":4.564,"y":-2.7,"s":"Forced Response"},{"x":4.7,"y":-3.72,"s":"Forced Response"},{"x":4.823,"y":-4.22,"s":"Forced Response"},{"x":4.939,"y":-3.89,"s":"Forced Response"},{"x":5.054,"y":-3.04,"s":"Forced Response"},{"x":5.163,"y":-2.2,"s":"Forced Response"},{"x":5.259,"y":-2.53,"s":"Forced Response"},{"x":5.381,"y":-3.89,"s":"Forced Response"},{"x":5.504,"y":-4.66,"s":"Forced Response"},{"x":5.62,"y":-4.22,"s":"Forced Response"},{"x":5.736,"y":-2.87,"s":"Forced Response"},{"x":5.845,"y":-1.69,"s":"Forced Response"},{"x":5.926,"y":-1.42,"s":"Forced Response"},{"x":6.029,"y":-1.86,"s":"Forced Response"},{"x":6.131,"y":-2.77,"s":"Forced Response"},{"x":6.233,"y":-3.11,"s":"Forced Response"},{"x":6.335,"y":-2.77,"s":"Forced Response"},{"x":6.437,"y":-1.69,"s":"Forced Response"},{"x":6.54,"y":-0.68,"s":"Forced Response"},{"x":6.621,"y":-0.41,"s":"Forced Response"},{"x":6.71,"y":-1.01,"s":"Forced Response"},{"x":6.812,"y":-2.03,"s":"Forced Response"},{"x":6.914,"y":-2.53,"s":"Forced Response"},{"x":7.016,"y":-1.69,"s":"Forced Response"},{"x":7.119,"y":0.34,"s":"Forced Response"},{"x":7.207,"y":2.03,"s":"Forced Response"},{"x":7.302,"y":2.87,"s":"Forced Response"},{"x":7.391,"y":2.7,"s":"Forced Response"},{"x":7.48,"y":2.03,"s":"Forced Response"},{"x":7.561,"y":1.35,"s":"Forced Response"},{"x":7.663,"y":1.52,"s":"Forced Response"},{"x":7.766,"y":2.87,"s":"Forced Response"},{"x":7.868,"y":4.05,"s":"Forced Response"},{"x":7.97,"y":5.07,"s":"Forced Response"},{"x":8.052,"y":5.24,"s":"Forced Response"},{"x":8.14,"y":4.56,"s":"Forced Response"},{"x":8.243,"y":3.21,"s":"Forced Response"},{"x":8.345,"y":2.2,"s":"Forced Response"},{"x":8.447,"y":2.7,"s":"Forced Response"},{"x":8.529,"y":4.39,"s":"Forced Response"},{"x":8.617,"y":7.43,"s":"Forced Response"},{"x":8.719,"y":9.46,"s":"Forced Response"},{"x":8.808,"y":9.97,"s":"Forced Response"},{"x":8.91,"y":8.95,"s":"Forced Response"},{"x":9.026,"y":8.11,"s":"Forced Response"},{"x":9.128,"y":8.78,"s":"Forced Response"},{"x":9.21,"y":10.47,"s":"Forced Response"},{"x":9.299,"y":12.5,"s":"Forced Response"},{"x":9.414,"y":13.45,"s":"Forced Response"},{"x":9.503,"y":12.84,"s":"Forced Response"},{"x":9.591,"y":10.81,"s":"Forced Response"},{"x":9.673,"y":8.45,"s":"Forced Response"},{"x":9.755,"y":6.42,"s":"Forced Response"},{"x":9.823,"y":5.47,"s":"Forced Response"},
{"x":0,"y":0,"s":"Aeroelastic Response"},{"x":0.082,"y":0.41,"s":"Aeroelastic Response"},{"x":0.17,"y":0.74,"s":"Aeroelastic Response"},{"x":0.259,"y":0.34,"s":"Aeroelastic Response"},{"x":0.341,"y":0.07,"s":"Aeroelastic Response"},{"x":0.409,"y":-0.51,"s":"Aeroelastic Response"},{"x":0.49,"y":-1.86,"s":"Aeroelastic Response"},{"x":0.559,"y":-3.21,"s":"Aeroelastic Response"},{"x":0.613,"y":-3.89,"s":"Aeroelastic Response"},{"x":0.681,"y":-3.38,"s":"Aeroelastic Response"},{"x":0.749,"y":-1.01,"s":"Aeroelastic Response"},{"x":0.817,"y":3.38,"s":"Aeroelastic Response"},{"x":0.899,"y":6.42,"s":"Aeroelastic Response"},{"x":0.988,"y":7.84,"s":"Aeroelastic Response"},{"x":1.056,"y":6.93,"s":"Aeroelastic Response"},{"x":1.124,"y":4.39,"s":"Aeroelastic Response"},{"x":1.192,"y":2.03,"s":"Aeroelastic Response"},{"x":1.274,"y":0.61,"s":"Aeroelastic Response"},{"x":1.342,"y":0.84,"s":"Aeroelastic Response"},{"x":1.417,"y":2.36,"s":"Aeroelastic Response"},{"x":1.499,"y":4.56,"s":"Aeroelastic Response"},{"x":1.58,"y":5.74,"s":"Aeroelastic Response"},{"x":1.649,"y":6.25,"s":"Aeroelastic Response"},{"x":1.703,"y":5.41,"s":"Aeroelastic Response"},{"x":1.771,"y":3.04,"s":"Aeroelastic Response"},{"x":1.853,"y":0.34,"s":"Aeroelastic Response"},{"x":1.941,"y":-1.86,"s":"Aeroelastic Response"},{"x":2.03,"y":-2.7,"s":"Aeroelastic Response"},{"x":2.112,"y":-2.03,"s":"Aeroelastic Response"},{"x":2.193,"y":-0.61,"s":"Aeroelastic Response"},{"x":2.262,"y":0,"s":"Aeroelastic Response"},{"x":2.33,"y":0.84,"s":"Aeroelastic Response"},{"x":2.398,"y":0.51,"s":"Aeroelastic Response"},{"x":2.466,"y":-1.35,"s":"Aeroelastic Response"},{"x":2.554,"y":-3.55,"s":"Aeroelastic Response"},{"x":2.643,"y":-5.0,"s":"Aeroelastic Response"},{"x":2.725,"y":-4.9,"s":"Aeroelastic Response"},{"x":2.807,"y":-4.22,"s":"Aeroelastic Response"},{"x":2.895,"y":-3.04,"s":"Aeroelastic Response"},{"x":2.984,"y":-2.2,"s":"Aeroelastic Response"},{"x":3.065,"y":-2.03,"s":"Aeroelastic Response"},{"x":3.147,"y":-2.7,"s":"Aeroelastic Response"},{"x":3.236,"y":-3.55,"s":"Aeroelastic Response"},{"x":3.324,"y":-4.73,"s":"Aeroelastic Response"},{"x":3.392,"y":-5.07,"s":"Aeroelastic Response"},{"x":3.46,"y":-4.97,"s":"Aeroelastic Response"},{"x":3.529,"y":-5.07,"s":"Aeroelastic Response"},{"x":3.61,"y":-4.22,"s":"Aeroelastic Response"},{"x":3.692,"y":-3.55,"s":"Aeroelastic Response"},{"x":3.781,"y":-2.97,"s":"Aeroelastic Response"},{"x":3.849,"y":-2.87,"s":"Aeroelastic Response"},{"x":3.917,"y":-2.77,"s":"Aeroelastic Response"},{"x":3.985,"y":-3.31,"s":"Aeroelastic Response"},{"x":4.053,"y":-2.77,"s":"Aeroelastic Response"},{"x":4.155,"y":-2.64,"s":"Aeroelastic Response"},{"x":4.237,"y":-1.86,"s":"Aeroelastic Response"},{"x":4.326,"y":-1.01,"s":"Aeroelastic Response"},{"x":4.414,"y":-0.27,"s":"Aeroelastic Response"},{"x":4.51,"y":0.34,"s":"Aeroelastic Response"},{"x":4.578,"y":0.51,"s":"Aeroelastic Response"},{"x":4.632,"y":0,"s":"Aeroelastic Response"},{"x":4.68,"y":-0.17,"s":"Aeroelastic Response"},{"x":4.734,"y":0.68,"s":"Aeroelastic Response"},{"x":4.782,"y":1.01,"s":"Aeroelastic Response"},{"x":4.837,"y":1.01,"s":"Aeroelastic Response"},{"x":4.891,"y":2.03,"s":"Aeroelastic Response"},{"x":4.959,"y":2.87,"s":"Aeroelastic Response"},{"x":5.027,"y":3.72,"s":"Aeroelastic Response"},{"x":5.095,"y":4.56,"s":"Aeroelastic Response"},{"x":5.163,"y":4.73,"s":"Aeroelastic Response"},{"x":5.211,"y":5.07,"s":"Aeroelastic Response"},{"x":5.259,"y":4.39,"s":"Aeroelastic Response"},{"x":5.313,"y":3.04,"s":"Aeroelastic Response"},{"x":5.368,"y":2.53,"s":"Aeroelastic Response"},{"x":5.416,"y":2.7,"s":"Aeroelastic Response"},{"x":5.463,"y":2.03,"s":"Aeroelastic Response"},{"x":5.518,"y":1.69,"s":"Aeroelastic Response"},{"x":5.572,"y":2.7,"s":"Aeroelastic Response"},{"x":5.64,"y":3.72,"s":"Aeroelastic Response"},{"x":5.708,"y":4.22,"s":"Aeroelastic Response"},{"x":5.79,"y":4.46,"s":"Aeroelastic Response"},{"x":5.872,"y":4.39,"s":"Aeroelastic Response"},{"x":5.94,"y":2.7,"s":"Aeroelastic Response"},{"x":5.995,"y":0.68,"s":"Aeroelastic Response"},{"x":6.049,"y":0.27,"s":"Aeroelastic Response"},{"x":6.097,"y":-0.17,"s":"Aeroelastic Response"},{"x":6.151,"y":-0.84,"s":"Aeroelastic Response"},{"x":6.199,"y":-0.84,"s":"Aeroelastic Response"},{"x":6.253,"y":0.68,"s":"Aeroelastic Response"},{"x":6.322,"y":2.2,"s":"Aeroelastic Response"},{"x":6.39,"y":3.38,"s":"Aeroelastic Response"},{"x":6.458,"y":4.05,"s":"Aeroelastic Response"},{"x":6.526,"y":3.89,"s":"Aeroelastic Response"},{"x":6.594,"y":2.03,"s":"Aeroelastic Response"},{"x":6.662,"y":-1.01,"s":"Aeroelastic Response"},{"x":6.73,"y":-3.72,"s":"Aeroelastic Response"},{"x":6.798,"y":-5.07,"s":"Aeroelastic Response"},{"x":6.866,"y":-5.57,"s":"Aeroelastic Response"},{"x":6.935,"y":-4.39,"s":"Aeroelastic Response"},{"x":7.016,"y":-1.01,"s":"Aeroelastic Response"},{"x":7.098,"y":1.69,"s":"Aeroelastic Response"},{"x":7.153,"y":2.7,"s":"Aeroelastic Response"},{"x":7.207,"y":2.77,"s":"Aeroelastic Response"},{"x":7.275,"y":1.35,"s":"Aeroelastic Response"},{"x":7.357,"y":-2.7,"s":"Aeroelastic Response"},{"x":7.439,"y":-5.74,"s":"Aeroelastic Response"},{"x":7.527,"y":-7.03,"s":"Aeroelastic Response"},{"x":7.595,"y":-6.76,"s":"Aeroelastic Response"},{"x":7.684,"y":-4.05,"s":"Aeroelastic Response"},{"x":7.766,"y":-1.01,"s":"Aeroelastic Response"},{"x":7.847,"y":0,"s":"Aeroelastic Response"},{"x":7.936,"y":0.27,"s":"Aeroelastic Response"},{"x":8.025,"y":-0.68,"s":"Aeroelastic Response"},{"x":8.106,"y":-3.72,"s":"Aeroelastic Response"},{"x":8.188,"y":-5.57,"s":"Aeroelastic Response"},{"x":8.277,"y":-6.01,"s":"Aeroelastic Response"},{"x":8.365,"y":-5.07,"s":"Aeroelastic Response"},{"x":8.447,"y":-2.7,"s":"Aeroelastic Response"},{"x":8.529,"y":0.34,"s":"Aeroelastic Response"},{"x":8.617,"y":2.36,"s":"Aeroelastic Response"},{"x":8.706,"y":3.21,"s":"Aeroelastic Response"},{"x":8.787,"y":2.03,"s":"Aeroelastic Response"},{"x":8.869,"y":-0.68,"s":"Aeroelastic Response"},{"x":8.958,"y":-2.36,"s":"Aeroelastic Response"},{"x":9.06,"y":-3.99,"s":"Aeroelastic Response"},{"x":9.128,"y":-3.04,"s":"Aeroelastic Response"},{"x":9.21,"y":-0.34,"s":"Aeroelastic Response"},{"x":9.299,"y":3.38,"s":"Aeroelastic Response"},{"x":9.401,"y":6.25,"s":"Aeroelastic Response"},{"x":9.503,"y":7.09,"s":"Aeroelastic Response"},{"x":9.591,"y":6.08,"s":"Aeroelastic Response"},{"x":9.673,"y":3.04,"s":"Aeroelastic Response"},{"x":9.741,"y":0.51,"s":"Aeroelastic Response"},{"x":9.823,"y":-0.17,"s":"Aeroelastic Response"},{"x":9.891,"y":0,"s":"Aeroelastic Response"},{"x":9.946,"y":1.35,"s":"Aeroelastic Response"},{"x":10.0,"y":3.72,"s":"Aeroelastic Response"}
]
},
"resolve": {"scale": {"color": "independent"}, "legend": {"color": "independent"}},
"columns": 2,
"align": {"row": "each", "column": "none"},
"spacing": {"row": 24, "column": 91},
"concat": [
  {"width": 484, "height": 218,
   "title": {"text": "(a) Aerodynamic work for blade 4.", "dx": -24},
   "layer": [
    {"data": {"values": [{}]}, "mark": {"type": "rule", "color": "#a0a0a0", "strokeWidth": 1.5}, "encoding": {"y": {"datum": 0, "type": "quantitative", "scale": {"domain": [-1.9, 25], "nice": false}}}},
    {"data": {"values": [{}]}, "mark": {"type": "rule", "color": "#404040", "strokeWidth": 1.5}, "encoding": {"y": {"datum": -1.9, "type": "quantitative"}}},
    {"data": {"values": [{}]}, "mark": {"type": "rule", "color": "#404040", "strokeWidth": 1.5}, "encoding": {"x": {"datum": 0, "type": "quantitative"}, "y": {"datum": -1.9, "type": "quantitative"}, "y2": {"datum": 25}}},
    {"data": {"name": "a"}, "mark": {"type": "line"},
     "encoding": {
      "x": {"field": "x", "type": "quantitative", "scale": {"domain": [0, 10], "nice": false}, "axis": {"values": [0,2,4,6,8,10], "title": "Revolutions"}},
      "y": {"field": "y", "type": "quantitative", "scale": {"domain": [-1.9, 25], "nice": false}, "axis": {"values": [0,5,10,15,20,25], "tickCount": 6, "title": "Work [lbf-in]", "titlePadding": 5, "labelOverlap": false}},
      "color": {"field": "s", "type": "nominal", "scale": {"domain": ["Forced Response", "Aeroelastic Response"], "range": ["#000000", "#ff0000"]}, "legend": {"orient": "none", "legendX": 43.5, "legendY": 16, "direction": "vertical"}}
     }}
   ]},
  {"width": 477, "height": 219,
   "title": {"text": "(b) Aerodynamic work for blade 11.", "dx": -28},
   "layer": [
    {"data": {"values": [{}]}, "mark": {"type": "rule", "color": "#a0a0a0", "strokeWidth": 1.5}, "encoding": {"y": {"datum": 0, "type": "quantitative", "scale": {"domain": [-8, 12.28], "nice": false}}}},
    {"data": {"values": [{}]}, "mark": {"type": "rule", "color": "#404040", "strokeWidth": 1.5}, "encoding": {"y": {"datum": -8, "type": "quantitative"}}},
    {"data": {"values": [{}]}, "mark": {"type": "rule", "color": "#404040", "strokeWidth": 1.5}, "encoding": {"x": {"datum": 0, "type": "quantitative"}, "y": {"datum": -8, "type": "quantitative"}, "y2": {"datum": 12}}},
    {"data": {"name": "b"}, "mark": {"type": "line"},
     "encoding": {
      "x": {"field": "x", "type": "quantitative", "scale": {"domain": [0, 10], "nice": false}, "axis": {"values": [0,2,4,6,8,10], "title": "Revolutions"}},
      "y": {"field": "y", "type": "quantitative", "scale": {"domain": [-8, 12.28], "nice": false}, "axis": {"values": [-8,-4,0,4,8,12], "tickCount": 6, "title": "Work [lbf-in]", "titlePadding": 5, "labelOverlap": false}},
      "color": {"field": "s", "type": "nominal", "scale": {"domain": ["Forced Response", "Aeroelastic Response"], "range": ["#000000", "#ff0000"]}, "legend": {"orient": "none", "legendX": 43.2, "legendY": 19.5, "direction": "vertical"}}
     }}
   ]},
  {"width": 484, "height": 225,
   "title": {"text": "(c) Aerodynamic work for blade 14.", "dx": -13},
   "layer": [
    {"data": {"values": [{}]}, "mark": {"type": "rule", "color": "#a0a0a0", "strokeWidth": 1.5}, "encoding": {"x": {"datum": 0, "type": "quantitative", "scale": {"domain": [-0.342, 10], "nice": false}}, "x2": {"datum": 10}, "y": {"datum": 0, "type": "quantitative", "scale": {"domain": [-15, 17], "nice": false}}}},
    {"data": {"values": [{}]}, "mark": {"type": "rule", "color": "#404040", "strokeWidth": 1.5}, "encoding": {"x": {"datum": 0, "type": "quantitative"}, "x2": {"datum": 10}, "y": {"datum": -15, "type": "quantitative"}}},
    {"data": {"values": [{}]}, "mark": {"type": "rule", "color": "#404040", "strokeWidth": 1.5}, "encoding": {"x": {"datum": 0, "type": "quantitative"}, "y": {"datum": -15, "type": "quantitative"}, "y2": {"datum": 15}}},
    {"data": {"name": "c"}, "mark": {"type": "line"},
     "encoding": {
      "x": {"field": "x", "type": "quantitative", "scale": {"domain": [-0.342, 10], "nice": false}, "axis": {"values": [0,2,4,6,8,10], "title": "Revolutions", "titleX": 250}},
      "y": {"field": "y", "type": "quantitative", "scale": {"domain": [-15, 17], "nice": false}, "axis": {"values": [-15,-10,-5,0,5,10,15], "tickCount": 7, "title": "Work [lbf-in]", "titlePadding": 10, "labelOverlap": false, "offset": -27, "labelPadding": 5}},
      "color": {"field": "s", "type": "nominal", "scale": {"domain": ["Forced Response", "Aeroelastic Response"], "range": ["#000000", "#ff0000"]}, "legend": {"orient": "none", "legendX": 58.5, "legendY": 28.2, "direction": "vertical"}}
     }}
   ]},
  {"width": 487, "height": 221,
   "title": {"text": "(d) Aerodynamic work for blade 24.", "dx": -22},
   "layer": [
    {"data": {"values": [{}]}, "mark": {"type": "rule", "color": "#a0a0a0", "strokeWidth": 1.5}, "encoding": {"y": {"datum": 0, "type": "quantitative", "scale": {"domain": [-7.5, 15], "nice": false}}}},
    {"data": {"values": [{}]}, "mark": {"type": "rule", "color": "#404040", "strokeWidth": 1.5}, "encoding": {"y": {"datum": -7.5, "type": "quantitative"}}},
    {"data": {"values": [{}]}, "mark": {"type": "rule", "color": "#404040", "strokeWidth": 1.5}, "encoding": {"x": {"datum": 0, "type": "quantitative"}, "y": {"datum": -7.5, "type": "quantitative"}, "y2": {"datum": 15}}},
    {"data": {"name": "d"}, "mark": {"type": "line"},
     "encoding": {
      "x": {"field": "x", "type": "quantitative", "scale": {"domain": [0, 10], "nice": false}, "axis": {"values": [0,2,4,6,8,10], "title": "Revolutions"}},
      "y": {"field": "y", "type": "quantitative", "scale": {"domain": [-7.5, 15], "nice": false}, "axis": {"values": [-5,0,5,10,15], "tickCount": 5, "title": "Work [lbf-in]", "titlePadding": -6, "labelOverlap": false}},
      "color": {"field": "s", "type": "nominal", "scale": {"domain": ["Forced Response", "Aeroelastic Response"], "range": ["#000000", "#ff0000"]}, "legend": {"orient": "none", "legendX": 43.5, "legendY": 15.5, "direction": "horizontal", "columnPadding": -1}}
     }}
   ]}
]
}
